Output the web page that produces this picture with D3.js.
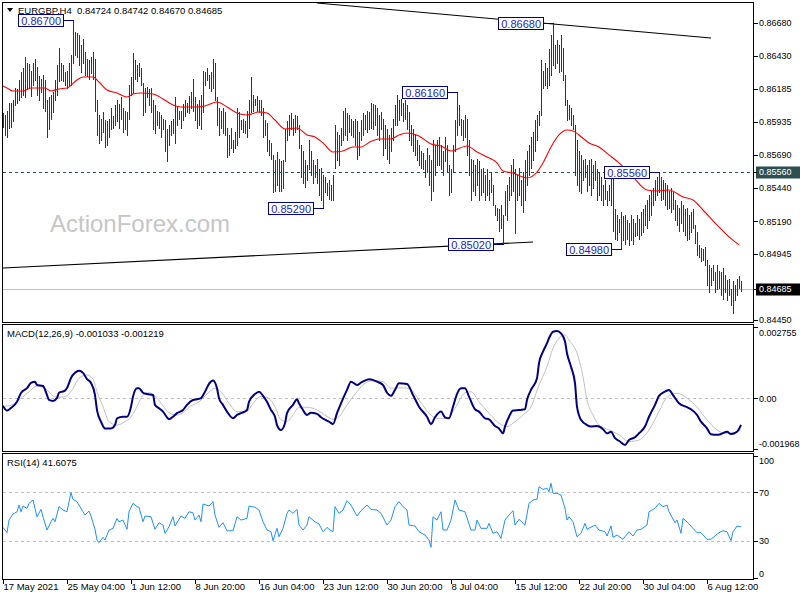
<!DOCTYPE html>
<html><head><meta charset="utf-8">
<script src="https://cdn.jsdelivr.net/npm/d3@7"></script>
<style>
html,body{margin:0;padding:0;background:#fff;}
svg{display:block;}
</style></head><body>
<svg id="chart" width="800" height="600"></svg>
<script>
// ---------------- DATA ----------------
const symbol = "EURGBP,H4";
const lastBar = ["0.84724", "0.84742", "0.84670", "0.84685"];

const highs = [
0.8600,0.8599,0.8602,0.8608,0.8608,0.8610,0.8619,0.8618,0.8625,0.8631,
0.8634,0.8642,0.8638,0.8637,0.8632,0.8638,0.8641,0.8635,0.8628,0.8626,0.8629,0.8625,
0.8610,0.8612,0.8614,0.8616,0.8625,0.8636,0.8649,0.8638,0.8636,0.8631,0.8632,0.8638,
0.8644,0.8670,0.8661,0.8660,0.8659,0.8651,0.8656,0.8646,0.8641,0.8640,0.8642,0.8646,0.8641,
0.8610,0.8599,0.8596,0.8601,0.8595,0.8594,0.8596,0.8604,0.8598,0.8606,0.8610,0.8607,0.8612,0.8604,0.8602,0.8601,0.8621,
0.8627,0.8645,0.8640,0.8636,0.8638,0.8634,0.8623,0.8619,0.8620,0.8618,0.8619,0.8610,
0.8606,0.8602,0.8601,0.8599,0.8596,0.8595,0.8588,
0.8591,0.8594,0.8596,0.8612,0.8605,0.8602,0.8602,0.8607,0.8610,0.8608,0.8613,0.8616,0.8626,
0.8612,0.8607,0.8610,0.8614,0.8632,0.8631,0.8634,0.8629,0.8631,0.8641,0.8638,0.8612,0.8604,
0.8602,0.8604,0.8601,0.8589,0.8584,0.8589,0.8580,0.8586,0.8604,0.8601,0.8595,0.8596,0.8594,0.8602,
0.8610,0.8627,0.8614,0.8611,0.8613,0.8610,0.8610,0.8604,0.8595,0.8593,0.8580,0.8578,
0.8569,0.8565,0.8571,0.8566,0.8564,0.8565,
0.8588,0.8594,0.8599,0.8600,0.8596,0.8599,0.8598,0.8591,
0.8576,0.8572,0.8565,0.8561,0.8580,0.8572,0.8565,0.8561,0.8566,0.8558,0.8559,0.8554,0.8552,0.8548,0.8550,0.8546,0.8554,
0.8591,0.8586,0.8584,0.8589,0.8602,0.8604,0.8600,0.8599,0.8596,0.8594,0.8596,0.8594,0.8586,0.8595,0.8600,0.8599,0.8602,0.8601,0.8608,0.8607,0.8606,
0.8604,0.8599,0.8601,0.8596,0.8591,0.8588,0.8584,0.8589,0.8596,0.8606,
0.8614,0.8610,0.8611,0.8608,0.8610,0.8606,
0.8601,0.8591,0.8588,0.8584,0.8580,0.8576,0.8572,0.8570,0.8565,0.8574,0.8569,0.8565,0.8580,0.8576,0.8580,
0.8582,0.8576,0.8572,0.8582,0.8576,0.8561,0.8558,
0.8576,0.8595,0.8616,0.8606,0.8596,0.8595,0.8599,0.8596,
0.8580,0.8566,0.8565,0.8561,0.8566,0.8564,0.8558,0.8559,0.8554,0.8558,0.8550,0.8556,0.8546,0.8531,0.8529,0.8528,0.8531,0.8524,
0.8542,0.8546,0.8552,0.8561,0.8566,0.8558,0.8554,0.8559,0.8550,0.8556,0.8565,0.8572,
0.8576,0.8582,0.8586,0.8595,0.8599,0.8602,0.8640,0.8632,0.8638,0.8634,0.8648,0.8659,0.8668,
0.8651,0.8655,0.8651,0.8659,0.8649,0.8629,0.8610,0.8606,0.8604,0.8599,
0.8591,0.8580,0.8572,0.8569,0.8565,0.8566,0.8561,0.8565,0.8566,0.8561,0.8564,0.8558,0.8556,0.8552,0.8546,0.8550,0.8542,0.8546,0.8556,
0.8554,0.8528,0.8524,0.8521,0.8526,0.8523,0.8524,0.8520,0.8518,0.8524,0.8521,0.8518,0.8524,
0.8521,0.8526,0.8528,0.8531,0.8535,0.8539,0.8542,0.8544,0.8550,0.8552,0.8556,
0.8552,0.8550,0.8548,0.8546,0.8542,0.8544,0.8541,0.8535,0.8531,0.8529,0.8534,0.8531,0.8528,0.8529,0.8524,0.8526,0.8528,0.8516,
0.8511,0.8501,0.8499,0.8498,0.8500,0.8490,0.8486,0.8484,0.8486,0.8481,0.8486,0.8482,
0.8481,0.8484,0.8479,0.8475,0.8476,0.8468,0.8474,0.8471,0.8476,0.8478,0.84742
];

const lows = [
0.8590,0.8584,0.8582,0.8589,0.8590,0.8594,0.8606,0.8608,0.8610,0.8612,
0.8614,0.8612,0.8618,0.8619,0.8613,0.8621,0.8625,0.8614,0.8610,0.8616,0.8604,0.8602,
0.8582,0.8588,0.8596,0.8601,0.8610,0.8614,0.8624,0.8625,0.8624,0.8621,0.8619,0.8621,
0.8621,0.8638,0.8644,0.8642,0.8636,0.8631,0.8638,0.8629,0.8628,0.8626,0.8630,0.8626,0.8602,
0.8584,0.8578,0.8580,0.8586,0.8575,0.8576,0.8582,0.8588,0.8589,0.8591,0.8594,0.8589,0.8596,0.8586,0.8588,0.8584,0.8596,
0.8614,0.8615,0.8626,0.8624,0.8628,0.8621,0.8599,0.8601,0.8612,0.8606,0.8601,0.8588,
0.8585,0.8591,0.8589,0.8582,0.8588,0.8572,0.8564,
0.8576,0.8584,0.8585,0.8578,0.8591,0.8596,0.8589,0.8595,0.8598,0.8601,0.8600,0.8604,0.8602,
0.8595,0.8589,0.8591,0.8588,0.8601,0.8621,0.8625,0.8619,0.8617,0.8619,0.8610,0.8591,0.8584,
0.8589,0.8585,0.8584,0.8567,0.8569,0.8574,0.8571,0.8574,0.8576,0.8582,0.8588,0.8586,0.8585,0.8582,
0.8589,0.8601,0.8602,0.8606,0.8602,0.8601,0.8599,0.8582,0.8584,0.8572,0.8569,0.8566,
0.8541,0.8542,0.8546,0.8542,0.8542,0.8544,
0.8564,0.8580,0.8584,0.8588,0.8584,0.8586,0.8588,0.8574,
0.8552,0.8548,0.8545,0.8550,0.8558,0.8554,0.8548,0.8552,0.8548,0.8539,0.8535,0.8529,0.8541,0.8539,0.8536,0.8535,0.8535,
0.8559,0.8565,0.8561,0.8576,0.8580,0.8584,0.8580,0.8586,0.8584,0.8582,0.8576,0.8566,0.8569,0.8580,0.8584,0.8588,0.8586,0.8588,0.8589,0.8588,0.8591,
0.8584,0.8580,0.8588,0.8569,0.8574,0.8566,0.8563,0.8572,0.8580,0.8591,
0.8591,0.8595,0.8599,0.8594,0.8596,0.8588,
0.8580,0.8576,0.8572,0.8569,0.8565,0.8561,0.8559,0.8558,0.8552,0.8556,0.8546,0.8535,0.8542,0.8554,0.8561,
0.8561,0.8558,0.8554,0.8564,0.8556,0.8539,0.8541,
0.8556,0.8572,0.8584,0.8591,0.8584,0.8580,0.8582,0.8569,
0.8554,0.8535,0.8542,0.8539,0.8546,0.8535,0.8539,0.8541,0.8535,0.8539,0.8535,0.8541,0.8531,0.8524,0.8520,0.8512,0.8514,0.8502,
0.8524,0.8520,0.8535,0.8539,0.8542,0.8510,0.8535,0.8539,0.8531,0.8526,0.8535,0.8546,
0.8554,0.8559,0.8565,0.8572,0.8580,0.8591,0.8599,0.8619,0.8621,0.8619,0.8621,0.8629,0.8636,
0.8634,0.8638,0.8631,0.8632,0.8625,0.8606,0.8595,0.8596,0.8591,0.8588,
0.8554,0.8546,0.8542,0.8540,0.8550,0.8552,0.8542,0.8546,0.8539,0.8544,0.8550,0.8535,0.8539,0.8535,0.8531,0.8536,0.8531,0.8535,0.8531,
0.8512,0.8506,0.8505,0.8511,0.8498,0.8505,0.8502,0.8506,0.8501,0.8505,0.8502,0.8508,0.8509,
0.8506,0.8509,0.8511,0.8516,0.8514,0.8520,0.8524,0.8531,0.8535,0.8539,0.8541,
0.8535,0.8536,0.8531,0.8528,0.8529,0.8526,0.8528,0.8520,0.8516,0.8512,0.8518,0.8512,0.8509,0.8505,0.8506,0.8511,0.8514,0.8503,
0.8494,0.8492,0.8489,0.8490,0.8486,0.8471,0.8466,0.8471,0.8475,0.8466,0.8468,0.8469,
0.8464,0.8461,0.8466,0.8460,0.8464,0.8456,0.8450,0.8460,0.8464,0.8469,0.84670
];

// moving average (red) : [bar index, value]
const movingAvg = [
[0,0.86205],[2,0.8619],[5,0.86168],[10,0.86168],[14,0.8619],[21,0.8619],[24,0.86168],[28,0.86183],[32,0.8619],
[37,0.8625],[40,0.86273],[45,0.86273],[48,0.86235],[52,0.86175],[57,0.86153],[62,0.86123],[65,0.86145],[69,0.86153],
[75,0.86145],[80,0.86108],[85,0.86063],[89,0.86048],[96,0.86048],[101,0.86055],[107,0.86085],[112,0.86048],[117,0.86003],
[122,0.85988],[128,0.8601],[132,0.86003],[136,0.8595],[141,0.85883],[147,0.8589],[152,0.85838],[156,0.85823],[160,0.85778],
[165,0.8571],[170,0.85718],[175,0.85748],[179,0.85748],[184,0.8579],[188,0.85808],[194,0.85808],[198,0.85838],[202,0.85853],
[208,0.8583],[214,0.8577],[219,0.85755],[224,0.85718],[232,0.85755],[237,0.8571],[242,0.85673],[247,0.85628],[250,0.85568],
[255,0.85553],[262,0.85515],[267,0.8556],[270,0.85628],[274,0.85748],[278,0.85838],[282,0.85875],[285,0.85868],[288,0.85838],
[293,0.85778],[298,0.85748],[303,0.85688],[308,0.85628],[315,0.85523],[322,0.85425],[327,0.85418],[333,0.85425],[340,0.85373],
[345,0.8535],[350,0.85275],[357,0.85163],[363,0.85073],[368,0.85013]
];

const priceTicks = [0.86680, 0.86430, 0.86185, 0.85935, 0.85690, 0.85440, 0.85190, 0.84945, 0.84450];
const resistanceLevel = 0.85560;
const currentPrice = 0.84685;
// swing labels : [bar index, price]
const swingLabels = [[35,0.86700],[160,0.85290],[227,0.86160],[250,0.85020],[275,0.86680],[309,0.84980],[328,0.85560]];
// trend lines : [bar index, price]
const trendUpper = [[157,0.86827],[354,0.86565]];
const trendLower = [[0,0.84840],[265,0.85035]];

// MACD(12,26,9)
const macdName = "MACD(12,26,9) -0.001033 -0.001219";
const macdMain = [
[0,-0.00030],[2,-0.00048],[4,-0.00038],[7,-0.00014],[9,0.00020],[12,0.00039],[14,0.00059],[16,0.00064],[17,0.00051],[20,0.00047],
[22,0.00012],[23,-0.00007],[25,-0.00011],[27,0.00001],[28,0.00021],[31,0.00029],[32,0.00039],[34,0.00078],[36,0.00098],[38,0.00106],
[40,0.00098],[42,0.00074],[44,0.00059],[46,0.00012],[47,-0.00046],[49,-0.00091],[51,-0.00117],[54,-0.00117],[56,-0.00104],[57,-0.00078],
[60,-0.00072],[62,-0.00072],[64,-0.00033],[65,0.00006],[67,0.00038],[68,0.00038],[70,0.00021],[72,0.00016],[75,0.00012],[76,-0.00026],
[78,-0.00039],[80,-0.00052],[82,-0.00074],[83,-0.00082],[85,-0.00072],[87,-0.00058],[90,-0.00046],[92,-0.00026],[95,-0.00007],[97,-0.00004],
[99,0.00000],[101,0.00025],[103,0.00055],[105,0.00068],[107,0.00038],[108,0.00000],[110,-0.00026],[112,-0.00052],[115,-0.00078],[117,-0.00065],
[119,-0.00058],[122,-0.00046],[123,-0.00014],[126,0.00016],[128,0.00025],[130,0.00009],[132,-0.00014],[134,-0.00046],[136,-0.00072],[137,-0.00104],
[139,-0.00123],[141,-0.00097],[142,-0.00058],[145,-0.00026],[147,-0.00004],[148,-0.00020],[150,-0.00046],[152,-0.00065],[154,-0.00056],[157,-0.00061],
[159,-0.00074],[162,-0.00087],[163,-0.00091],[165,-0.00100],[167,-0.00058],[169,-0.00020],[172,0.00032],[174,0.00064],[177,0.00051],[179,0.00060],
[183,0.00073],[187,0.00064],[190,0.00051],[192,0.00021],[194,0.00009],[196,0.00032],[198,0.00058],[202,0.00055],[205,0.00012],[208,-0.00033],
[212,-0.00072],[214,-0.00100],[216,-0.00074],[219,-0.00052],[221,-0.00074],[223,-0.00078],[225,-0.00033],[227,0.00016],[229,0.00038],[231,0.00038],
[233,0.00006],[236,-0.00043],[238,-0.00052],[241,-0.00078],[243,-0.00082],[246,-0.00108],[248,-0.00117],[250,-0.00136],[251,-0.00110],[253,-0.00072],
[255,-0.00048],[258,-0.00046],[261,-0.00043],[262,-0.00007],[264,0.00032],[267,0.00077],[268,0.00135],[270,0.00180],[272,0.00213],[273,0.00232],
[275,0.00257],[277,0.00260],[279,0.00251],[281,0.00219],[282,0.00174],[284,0.00122],[286,0.00058],[287,-0.00033],[289,-0.00084],[292,-0.00104],
[294,-0.00110],[297,-0.00108],[300,-0.00120],[302,-0.00136],[304,-0.00130],[306,-0.00155],[308,-0.00165],[311,-0.00181],[313,-0.00162],[316,-0.00151],
[318,-0.00136],[321,-0.00110],[323,-0.00072],[326,-0.00026],[328,0.00009],[331,0.00025],[333,0.00032],[335,0.00012],[338,-0.00020],[342,-0.00035],
[344,-0.00043],[347,-0.00065],[349,-0.00091],[352,-0.00117],[354,-0.00140],[357,-0.00142],[359,-0.00139],[362,-0.00130],[364,-0.00139],[367,-0.00130],
[369,-0.001033]
];
const macdSignal = [
[0,-0.00030],[3,-0.00030],[8,-0.00007],[13,0.00025],[17,0.00047],[21,0.00038],[25,0.00009],[28,0.00003],[32,0.00009],[35,0.00038],
[38,0.00077],[42,0.00090],[45,0.00073],[47,0.00025],[50,-0.00033],[53,-0.00091],[57,-0.00104],[61,-0.00091],[64,-0.00072],[67,-0.00033],
[70,0.00012],[73,0.00021],[77,0.00000],[80,-0.00030],[83,-0.00056],[87,-0.00065],[90,-0.00056],[94,-0.00030],[98,-0.00014],[102,0.00016],
[106,0.00038],[109,0.00025],[113,-0.00020],[117,-0.00052],[122,-0.00052],[125,-0.00020],[129,0.00006],[132,0.00003],[136,-0.00033],[139,-0.00084],
[142,-0.00091],[145,-0.00065],[148,-0.00035],[152,-0.00035],[157,-0.00046],[161,-0.00065],[165,-0.00082],[168,-0.00072],[172,-0.00026],[177,0.00025],
[181,0.00058],[185,0.00068],[190,0.00064],[194,0.00038],[198,0.00040],[203,0.00038],[208,-0.00007],[213,-0.00058],[217,-0.00078],[222,-0.00078],
[226,-0.00039],[231,0.00021],[234,0.00025],[238,-0.00014],[243,-0.00058],[248,-0.00097],[252,-0.00110],[256,-0.00091],[260,-0.00065],[264,-0.00033],
[268,0.00051],[272,0.00122],[275,0.00193],[278,0.00232],[281,0.00245],[283,0.00225],[287,0.00174],[290,0.00083],[292,-0.00007],[295,-0.00065],
[298,-0.00104],[303,-0.00123],[308,-0.00142],[313,-0.00168],[318,-0.00162],[323,-0.00123],[328,-0.00052],[332,0.00003],[337,0.00019],[342,0.00000],
[347,-0.00035],[352,-0.00084],[357,-0.00123],[361,-0.00136],[365,-0.00134],[369,-0.001219]
];
const macdTicks = [0.002755, 0, -0.001968];
const macdTickLabels = ["0.002755", "0.00", "-0.001968"];

// RSI(14)
const rsiName = "RSI(14) 41.6075";
const rsi = [
[0,41.2],[2,36.8],[3,47.2],[5,52.2],[7,54],[8,59.5],[9,54],[10,58.7],[12,56.8],[13,60.9],[15,63.7],[17,49.9],[19,56],[20,49.9],
[22,39],[24,45.8],[25,48.6],[26,45.8],[28,58.2],[30,55.4],[32,54],[33,62.3],[34,69.7],[35,64.2],[37,62.3],[40,54],[41,51.3],
[43,54.6],[44,50.5],[46,39.6],[47,30.8],[48,28.6],[50,33],[51,30.8],[53,39],[55,40.4],[57,48.6],[58,45.8],[60,47.2],[62,39.6],
[63,54],[65,60.9],[67,58.2],[68,57.7],[70,45.8],[71,50.5],[74,49.9],[76,39.6],[78,45],[80,43.1],[81,36.3],[83,41.7],[85,49.9],
[86,42.3],[89,50.5],[91,48.6],[93,54],[95,53.2],[96,47.2],[98,51.3],[99,45.8],[100,60.4],[103,58.7],[105,62.3],[106,51.3],
[108,41.2],[110,45],[112,38.4],[115,38.4],[117,49.9],[119,47.2],[122,48.6],[123,58.7],[126,57.7],[128,55.4],[130,45.8],[132,39],
[134,37.6],[135,30.2],[137,40.4],[138,33.5],[140,40.4],[142,52.7],[143,55.4],[145,52.7],[147,56],[148,43.1],[150,39],[152,43.1],
[153,49.9],[156,45.8],[158,43.9],[160,37.6],[162,41.2],[163,39.6],[165,37.6],[166,58.2],[168,52.7],[170,55.4],[172,63.1],[174,59.5],
[177,50.5],[179,54.9],[182,59.5],[184,56],[187,55.4],[189,52.7],[192,43.1],[194,47.2],[196,58.2],[198,62.3],[200,58.2],[202,55.4],
[203,43.1],[206,42.3],[208,37.6],[211,34.9],[213,30.8],[214,24.8],[215,49.9],[217,47.2],[219,54],[220,39],[222,39],[224,47.2],
[226,63.7],[228,55.4],[231,54],[234,39],[236,39],[237,47.2],[239,40.4],[242,40.4],[243,44.5],[245,36.3],[247,37.6],[249,32.2],
[251,47.2],[253,51.3],[255,54.9],[256,43.1],[258,47.8],[261,43.1],[263,60.9],[265,63.7],[267,64.2],[268,74.6],[270,72.4],[272,73.3],
[273,70.5],[274,77.4],[275,69.2],[277,69.2],[279,67.8],[281,56.8],[282,47.2],[283,49.9],[285,45.8],[287,33.5],[289,36.3],[291,44.5],
[292,39.6],[296,43.1],[298,39],[301,37.6],[302,34.1],[304,42.3],[305,33],[307,34.9],[310,31.4],[313,37.6],[315,34.1],[317,39],
[319,39.6],[322,43.1],[323,54],[326,56.8],[328,60.9],[330,58.2],[332,59.5],[333,54],[336,45],[337,47.2],[339,36.3],[340,48.6],
[342,45.8],[345,40.4],[347,36.8],[349,36.8],[352,31.4],[354,31.4],[356,34.1],[358,36.8],[360,38.4],[362,37.6],[364,30.2],[365,37.6],
[367,42.3],[369,41.6075]
];
const rsiTicks = [100, 70, 30, 0];
const rsiLevels = [70, 30];

// time axis
const dateIdx = [0, 32, 64, 96, 128, 160, 192, 224, 256, 288, 320, 352];
const dateLabels = ["17 May 2021","25 May 04:00","1 Jun 12:00","8 Jun 20:00","16 Jun 04:00","23 Jun 12:00",
  "30 Jun 20:00","8 Jul 04:00","15 Jul 12:00","22 Jul 20:00","30 Jul 04:00","6 Aug 12:00"];

const watermark = "ActionForex.com";

// ---------------- DRAW ----------------
const FONT = '"Liberation Sans", Arial, sans-serif';
const FS = 9.5;
const FSA = 9;
const svg = d3.select("#chart");
const xLeft = 2.5, xRight = 753.5;
const panels = {main:[2.5, 322.5], macd:[324.5, 451.5], rsi:[453.5, 579.5]};

const n = Math.min(highs.length, lows.length);
const x = d3.scaleLinear().domain([0, n - 1]).range([3, 741]);
const yP = d3.scaleLinear().domain([0.84435, 0.868275]).range([322, 3]);
const yM = d3.scaleLinear().domain([macdTicks[2], macdTicks[0]]).range([449, 327]);
const yR = d3.scaleLinear().domain([0, 100]).range([577.5, 455.8]);

const defs = svg.append("defs");
Object.entries(panels).forEach(([k, [t, b]]) => {
  defs.append("clipPath").attr("id", "clip-" + k)
    .append("rect").attr("x", 3).attr("y", t + 0.5).attr("width", xRight - 3).attr("height", b - t - 1);
});

// watermark
svg.append("text").attr("x", 50).attr("y", 232).attr("font-family", FONT).attr("font-size", 24)
  .attr("fill", "#c6c6c6").text(watermark);

// ---- main panel ----
const gm = svg.append("g").attr("clip-path", "url(#clip-main)");
gm.append("line").attr("x1", 3).attr("x2", xRight).attr("y1", Math.round(yP(currentPrice)) + 0.5).attr("y2", Math.round(yP(currentPrice)) + 0.5)
  .attr("stroke", "#c0c0c0").attr("stroke-width", 1).attr("shape-rendering", "crispEdges");
gm.append("line").attr("x1", 3).attr("x2", xRight).attr("y1", Math.round(yP(resistanceLevel)) + 0.5).attr("y2", Math.round(yP(resistanceLevel)) + 0.5)
  .attr("stroke", "#2f4f4f").attr("stroke-width", 1).attr("stroke-dasharray", "3,3").attr("shape-rendering", "crispEdges");

const tl = d3.line().x(d => x(d[0])).y(d => yP(d[1]));
[trendUpper, trendLower].forEach(t => {
  gm.append("path").attr("d", tl(t)).attr("fill", "none").attr("stroke", "#000").attr("stroke-width", 1.1);
});

gm.selectAll("line.bar").data(d3.range(n)).join("line").attr("class", "bar")
  .attr("x1", i => Math.round(x(i)) + 0.5).attr("x2", i => Math.round(x(i)) + 0.5)
  .attr("y1", i => Math.round(yP(highs[i])))
  .attr("y2", i => Math.max(Math.round(yP(lows[i])), Math.round(yP(highs[i])) + 1) + 1)
  .attr("stroke", "#163d58").attr("stroke-width", 1).attr("shape-rendering", "crispEdges");

gm.append("path").attr("d", d3.line().x(d => x(d[0])).y(d => yP(d[1])).curve(d3.curveMonotoneX)(movingAvg))
  .attr("fill", "none").attr("stroke", "#ff0000").attr("stroke-width", 1.1);

// swing labels
swingLabels.forEach(([bi, p]) => {
  const bx = Math.round(x(bi)) + 0.5, by = Math.round(yP(p)) + 0.5;
  const t = svg.append("text").attr("font-family", FONT).attr("font-size", 11).attr("fill", "#2424c8")
    .text(d3.format(".5f")(p));
  const w = t.node().getComputedTextLength() + 5;
  const right = bx - 10;
  svg.append("line").attr("x1", right).attr("x2", bx).attr("y1", by).attr("y2", by)
    .attr("stroke", "#000080").attr("stroke-width", 1).attr("shape-rendering", "crispEdges");
  svg.append("rect").attr("x", right - w).attr("y", by - 6).attr("width", w).attr("height", 12)
    .attr("fill", "#fff").attr("stroke", "#000080").attr("stroke-width", 1).attr("shape-rendering", "crispEdges");
  t.attr("x", right - w + 2.5).attr("y", by + 4).raise();
});

// header
svg.append("path").attr("d", "M7,8 L13,8 L10,12 Z").attr("fill", "#000");
svg.append("text").attr("x", 18).attr("y", 14).attr("font-family", FONT).attr("font-size", FS).attr("fill", "#000").text(symbol);
svg.append("text").attr("x", 77).attr("y", 14).attr("font-family", FONT).attr("font-size", FS).attr("fill", "#000").text(lastBar.join(" "));

// ---- MACD panel ----
const gd = svg.append("g").attr("clip-path", "url(#clip-macd)");
gd.append("line").attr("x1", 3).attr("x2", xRight).attr("y1", Math.round(yM(0)) + 0.5).attr("y2", Math.round(yM(0)) + 0.5)
  .attr("stroke", "#c0c0c0").attr("stroke-dasharray", "3,3").attr("shape-rendering", "crispEdges");
const lm = d3.line().x(d => x(d[0])).y(d => yM(d[1])).curve(d3.curveMonotoneX);
gd.append("path").attr("d", lm(macdSignal)).attr("fill", "none").attr("stroke", "#c0c0c0").attr("stroke-width", 1);
gd.append("path").attr("d", lm(macdMain)).attr("fill", "none").attr("stroke", "#000080").attr("stroke-width", 2);
svg.append("text").attr("x", 7).attr("y", 337).attr("font-family", FONT).attr("font-size", FS).attr("fill", "#000").text(macdName);

// ---- RSI panel ----
const gr = svg.append("g").attr("clip-path", "url(#clip-rsi)");
rsiLevels.forEach(v => {
  gr.append("line").attr("x1", 3).attr("x2", xRight).attr("y1", Math.round(yR(v)) + 0.5).attr("y2", Math.round(yR(v)) + 0.5)
    .attr("stroke", "#c0c0c0").attr("stroke-dasharray", "3,3").attr("shape-rendering", "crispEdges");
});
gr.append("path").attr("d", d3.line().x(d => x(d[0])).y(d => yR(d[1]))(rsi))
  .attr("fill", "none").attr("stroke", "#1e90ff").attr("stroke-width", 1);
svg.append("text").attr("x", 7).attr("y", 466).attr("font-family", FONT).attr("font-size", FS).attr("fill", "#000").text(rsiName);

// ---- frames ----
Object.values(panels).forEach(([t, b]) => {
  svg.append("rect").attr("x", xLeft).attr("y", t).attr("width", xRight - xLeft).attr("height", b - t)
    .attr("fill", "none").attr("stroke", "#000").attr("stroke-width", 1).attr("shape-rendering", "crispEdges");
});

// ---- right axes ----
function styleAxis(g) {
  g.select(".domain").remove();
  g.selectAll(".tick line").attr("stroke", "#000").attr("shape-rendering", "crispEdges");
  g.selectAll(".tick text").attr("font-family", FONT).attr("font-size", FSA).attr("fill", "#000");
}
const axP = svg.append("g").attr("transform", `translate(${xRight},0)`)
  .call(d3.axisRight(yP).tickValues(priceTicks).tickFormat(d3.format(".5f")).tickSize(4).tickPadding(1.5));
styleAxis(axP);

// highlighted price tags
[[resistanceLevel, "#2f4f4f"], [currentPrice, "#000000"]].forEach(([v, c]) => {
  const yy = Math.round(yP(v)) + 0.5;
  svg.append("rect").attr("x", 756).attr("y", yy - 6).attr("width", 44).attr("height", 12).attr("fill", c);
  svg.append("line").attr("x1", xRight).attr("x2", 757).attr("y1", yy).attr("y2", yy).attr("stroke", "#000").attr("shape-rendering", "crispEdges");
  svg.append("text").attr("x", 759).attr("y", yy).attr("dy", "0.32em").attr("font-family", FONT).attr("font-size", FSA)
    .attr("fill", "#fff").text(d3.format(".5f")(v));
});

const axM = svg.append("g").attr("transform", `translate(${xRight},0)`)
  .call(d3.axisRight(yM).tickValues(macdTicks).tickFormat((d, i) => macdTickLabels[i]).tickSize(4).tickPadding(1.5));
styleAxis(axM);
axM.selectAll(".tick text").attr("dy", (d, i) => i === 0 ? "0.95em" : (i === 2 ? "-0.25em" : "0.32em"));

const axR = svg.append("g").attr("transform", `translate(${xRight},0)`)
  .call(d3.axisRight(yR).tickValues(rsiTicks).tickFormat(d3.format("d")).tickSize(4).tickPadding(1.5));
styleAxis(axR);
axR.selectAll(".tick text").attr("dy", d => d === 100 ? "0.85em" : (d === 0 ? "-0.15em" : "0.32em"));

// ---- time axis ----
const axT = svg.append("g").attr("transform", `translate(0,${panels.rsi[1]})`)
  .call(d3.axisBottom(x).tickValues(dateIdx).tickFormat((d, i) => dateLabels[i]).tickSize(4).tickPadding(2));
axT.select(".domain").remove();
axT.selectAll(".tick line").attr("stroke", "#000").attr("shape-rendering", "crispEdges");
axT.selectAll(".tick text").attr("font-family", FONT).attr("font-size", FS).attr("fill", "#000")
  .attr("text-anchor", "start").attr("x", 0).attr("dy", "0.5em");
</script>
</body></html>
